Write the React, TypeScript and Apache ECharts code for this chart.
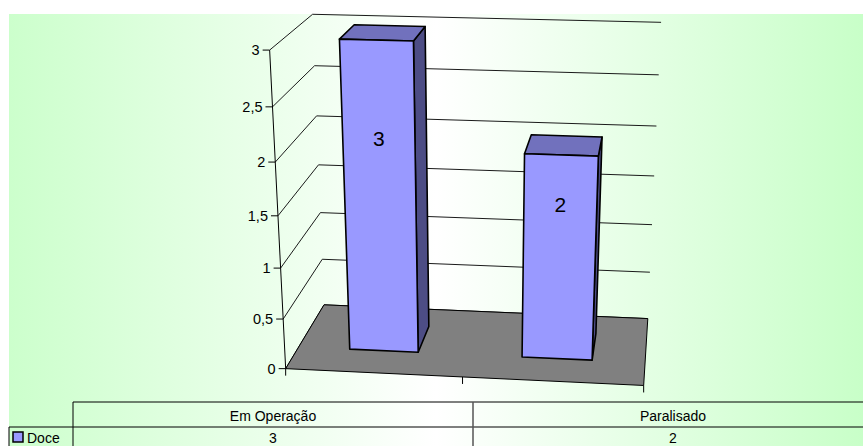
import React, { useEffect, useRef } from "react";
import * as echarts from "echarts";

// ---------- data ----------
const categories = ["Em Operação", "Paralisado"];
const seriesName = "Doce";
const doceValues = [3, 2];
const yTicks = [0, 0.5, 1, 1.5, 2, 2.5, 3];
const yTickLabels = ["0", "0,5", "1", "1,5", "2", "2,5", "3"];

// ---------- layout (3D frame calibration: [u, v, w, px, py]) ----------
const FRAME_CALIBRATION: number[][] = [
  [0, 0, 0, 286, 369],
  [1, 0, 0, 644, 385],
  [0, 0, 1, 324, 305],
  [1, 0, 1, 648, 318],
  [0, 1, 0, 270, 50],
  [0, 1, 1, 313, 14],
  [1, 1, 1, 661, 22],
  [0.5, 0, 0, 462, 377],
  [0, 1 / 6, 0, 283, 319],
  [0, 2 / 6, 0, 281, 268],
  [0, 3 / 6, 0, 278, 216],
  [0, 4 / 6, 0, 275, 162],
  [0, 5 / 6, 0, 272, 107],
  [0, 1 / 6, 1, 322, 259],
  [0, 2 / 6, 1, 320, 212],
  [0, 3 / 6, 1, 319, 165],
  [0, 4 / 6, 1, 317, 116],
  [0, 5 / 6, 1, 314, 66],
  [1, 1 / 6, 1, 650, 273],
  [1, 2 / 6, 1, 652, 225],
  [1, 3 / 6, 1, 654, 176],
  [1, 4 / 6, 1, 656, 126],
  [1, 5 / 6, 1, 659, 75],
];
const BAR_FRONT_DEPTH = 0.32;
const BAR_BACK_DEPTH = 0.72;
const BAR_WIDTH_OF_BAND = 0.4;
// label placed at (LABEL_SLOPE * value + LABEL_OFFSET) in value units
const LABEL_SLOPE = 0.57;
const LABEL_OFFSET = 0.39;
const FONT = "'Liberation Sans', Arial, Helvetica, sans-serif";

function fitProjection(pts: number[][]): number[] {
  const n = 11;
  const M: number[][] = Array.from({ length: n }, () => new Array(n + 1).fill(0));
  const addRow = (row: number[], rhs: number) => {
    for (let i = 0; i < n; i++) {
      for (let j = 0; j < n; j++) M[i][j] += row[i] * row[j];
      M[i][n] += row[i] * rhs;
    }
  };
  for (const [X, Y, Z, x, y] of pts) {
    addRow([X, Y, Z, 1, 0, 0, 0, 0, -x * X, -x * Y, -x * Z], x);
    addRow([0, 0, 0, 0, X, Y, Z, 1, -y * X, -y * Y, -y * Z], y);
  }
  for (let c = 0; c < n; c++) {
    let piv = c;
    for (let r = c + 1; r < n; r++) if (Math.abs(M[r][c]) > Math.abs(M[piv][c])) piv = r;
    const tmp = M[c]; M[c] = M[piv]; M[piv] = tmp;
    for (let r = 0; r < n; r++) {
      if (r === c) continue;
      const f = M[r][c] / M[c][c];
      for (let k = c; k <= n; k++) M[r][k] -= f * M[c][k];
    }
  }
  return M.map((r, i) => r[n] / r[i]);
}

const CAM = fitProjection(FRAME_CALIBRATION);
function P(u: number, v: number, w: number): number[] {
  const p = CAM;
  const d = p[8] * u + p[9] * v + p[10] * w + 1;
  return [
    (p[0] * u + p[1] * v + p[2] * w + p[3]) / d,
    (p[4] * u + p[5] * v + p[6] * w + p[7]) / d,
  ];
}

function line(a: number[], b: number[], stroke = "#000", lineWidth = 1) {
  return {
    type: "line",
    shape: { x1: a[0], y1: a[1], x2: b[0], y2: b[1] },
    style: { stroke, lineWidth },
  };
}

export default function App() {
  const ref = useRef<HTMLDivElement>(null);
  useEffect(() => {
    if (!ref.current) return;
    const chart = echarts.init(ref.current, undefined, { renderer: "svg" });

    const normV = (cs: any, py: number) => (cs.y + cs.height - py) / cs.height;
    const normU = (cs: any, px: number) => (px - cs.x) / cs.width;

    // table layout
    const tLeft = 73, tRight = 863, tTop = 402, tMid = 427, tBottom = 446, legendLeft = 9;
    const colW = 400;
    const tableEls: any[] = [
      line([tLeft, tTop], [tRight, tTop]),
      line([legendLeft, tMid], [tRight, tMid]),
      line([tLeft, tTop], [tLeft, tBottom]),
      line([legendLeft, tMid], [legendLeft, tBottom]),
    ];
    categories.forEach((c, i) => {
      if (i > 0) tableEls.push(line([tLeft + colW * i, tTop], [tLeft + colW * i, tBottom], "#555", 1.5));
      tableEls.push({
        type: "text",
        x: tLeft + colW * (i + 0.5),
        y: (tTop + tMid) / 2 + 1,
        style: { text: c, fill: "#000", font: `14px ${FONT}`, align: "center", verticalAlign: "middle" },
      });
      tableEls.push({
        type: "text",
        x: tLeft + colW * (i + 0.5),
        y: (tMid + tBottom) / 2 + 1,
        style: { text: String(doceValues[i]), fill: "#000", font: `14px ${FONT}`, align: "center", verticalAlign: "middle" },
      });
    });
    tableEls.push({
      type: "rect",
      shape: { x: 13, y: 432, width: 10, height: 10 },
      style: { fill: "#9999ff", stroke: "#000", lineWidth: 1.5 },
    });
    tableEls.push({
      type: "text",
      x: 27,
      y: 438,
      style: { text: seriesName, fill: "#000", font: `14px ${FONT}`, align: "left", verticalAlign: "middle" },
    });

    const option: any = {
      animation: false,
      backgroundColor: "#ffffff",
      grid: { left: 0, top: 0, width: 100, height: 100, show: false },
      xAxis: { type: "category", data: categories, show: false },
      yAxis: { type: "value", min: 0, max: 3, interval: 0.5, show: false },
      graphic: {
        elements: [
          {
            type: "rect",
            z: -10,
            shape: { x: 9, y: 14, width: 854, height: 432 },
            style: {
              fill: {
                type: "linear", x: 0, y: 0, x2: 1, y2: 0,
                colorStops: [
                  { offset: 0, color: "#ccffcc" },
                  { offset: 0.5, color: "#ffffff" },
                  { offset: 1, color: "#c8ffc8" },
                ],
              },
            },
            silent: true,
          },
          ...tableEls,
        ],
      },
      series: [
        {
          type: "custom",
          name: "frame",
          silent: true,
          clip: false,
          z: 1,
          data: yTicks.map((t) => [0, t]),
          renderItem: (params: any, api: any) => {
            const cs = params.coordSys;
            const v = normV(cs, api.coord([0, api.value(1)])[1]);
            const a = P(0, v, 0), b = P(0, v, 1), c = P(1, v, 1);
            return {
              type: "group",
              children: [
                line(a, b, "#1a1a1a", 1),
                line(b, c, "#1a1a1a", 1),
                line([a[0] - 7, a[1]], a, "#000", 1),
                {
                  type: "text",
                  x: a[0] - 10,
                  y: a[1],
                  style: {
                    text: yTickLabels[params.dataIndex],
                    fill: "#000",
                    font: `14.5px ${FONT}`,
                    align: "right",
                    verticalAlign: "middle",
                  },
                },
              ],
            };
          },
        },
        {
          type: "custom",
          name: "floor",
          silent: true,
          clip: false,
          z: 2,
          data: [[0, 0]],
          renderItem: (params: any, api: any) => {
            const cs = params.coordSys;
            const top = normV(cs, api.coord([0, 3])[1]);
            const pts = [P(0, 0, 0), P(1, 0, 0), P(1, 0, 1), P(0, 0, 1)];
            return {
              type: "group",
              children: [
                { type: "polygon", shape: { points: pts }, style: { fill: "#808080", stroke: "#000", lineWidth: 1 } },
                line(P(0, 0, 0), P(0, top, 0), "#000", 1),
              ],
            };
          },
        },
        {
          type: "custom",
          name: "catTicks",
          silent: true,
          clip: false,
          z: 2,
          data: categories.map((c, i) => [i, 0]),
          renderItem: (params: any, api: any) => {
            const cs = params.coordSys;
            const xc = api.coord([api.value(0), 0])[0];
            const band = api.size([1, 0])[0];
            const us = [normU(cs, xc - band / 2)];
            if (params.dataIndex === categories.length - 1) us.push(normU(cs, xc + band / 2));
            return {
              type: "group",
              children: us.map((u) => {
                const p = P(u, 0, 0);
                return line(p, [p[0], p[1] + 7], "#000", 1);
              }),
            };
          },
        },
        {
          type: "custom",
          name: seriesName,
          silent: true,
          clip: false,
          z: 3,
          data: doceValues.map((v, i) => [i, v]),
          renderItem: (params: any, api: any) => {
            const cs = params.coordSys;
            const val = api.value(1);
            const pt = api.coord([api.value(0), val]);
            const band = api.size([1, 0])[0];
            const half = (band * BAR_WIDTH_OF_BAND) / 2;
            const u0 = normU(cs, pt[0] - half), u1 = normU(cs, pt[0] + half);
            const vt = normV(cs, pt[1]);
            const vl = normV(cs, api.coord([api.value(0), val * LABEL_SLOPE + LABEL_OFFSET])[1]);
            const w0 = BAR_FRONT_DEPTH, w1 = BAR_BACK_DEPTH;
            const edge = { stroke: "#000", lineWidth: 1.6, lineJoin: "round" };
            const side = [P(u1, 0, w0), P(u1, 0, w1), P(u1, vt, w1), P(u1, vt, w0)];
            const topF = [P(u0, vt, w0), P(u1, vt, w0), P(u1, vt, w1), P(u0, vt, w1)];
            const front = [P(u0, 0, w0), P(u1, 0, w0), P(u1, vt, w0), P(u0, vt, w0)];
            const lp = P((u0 + u1) / 2, vl, w0);
            return {
              type: "group",
              children: [
                { type: "polygon", shape: { points: side }, style: { fill: "#4d4d85", ...edge } },
                { type: "polygon", shape: { points: topF }, style: { fill: "#7171bd", ...edge } },
                { type: "polygon", shape: { points: front }, style: { fill: "#9999ff", ...edge } },
                {
                  type: "text",
                  x: lp[0],
                  y: lp[1],
                  style: {
                    text: String(val),
                    fill: "#000",
                    font: `21px ${FONT}`,
                    align: "center",
                    verticalAlign: "middle",
                  },
                },
              ],
            };
          },
        },
      ],
    };
    chart.setOption(option);
    return () => chart.dispose();
  }, []);
  return (
    <div
      ref={ref}
      style={{ position: "fixed", left: 0, top: 0, width: 863, height: 446 }}
    />
  );
}
